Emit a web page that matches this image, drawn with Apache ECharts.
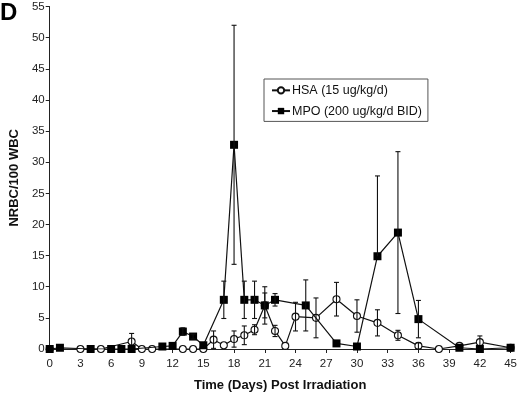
<!DOCTYPE html>
<html><head><meta charset="utf-8">
<script src="https://cdn.jsdelivr.net/npm/echarts@6/dist/echarts.min.js"></script>
<style>html,body{margin:0;padding:0;background:#fff}#c{width:520px;height:397px}</style>
</head><body><div id="c"></div>
<script>
// ---- data ----
const xTickLabels = [0,3,6,9,12,15,18,21,24,27,30,33,36,39,42,45];
const yTickLabels = [0,5,10,15,20,25,30,35,40,45,50,55];

const hsaName = 'HSA (15 ug/kg/d)';
const hsaDays   = [0,3,5,8,9,10,13,14,15,16,17,18,19,20,21,22,23,24,26,28,30,32,34,36,38,40,42,45];
const hsaValues = [0,0,0,1.2,0,0,0,0,0,1.5,0.6,1.6,2.2,3.1,7.0,2.9,0.5,5.2,5.0,8.0,5.3,4.2,2.2,0.5,0,0.5,1.1,0.2];
const hsaErrUp  = [0,0,0,1.3,0,0,0,0,0,1.4,0,1.3,1.5,0.8,2.0,0.9,0,2.3,3.2,2.7,2.6,2.1,0.8,0.5,0,0,1.0,0];
const hsaErrDn  = [0,0,0,1.3,0,0,0,0,0,1.4,0,1.3,1.5,0.8,2.0,0.9,0,2.3,3.2,2.7,2.6,2.1,0.8,0.5,0,0,1.0,0];

const mpoName = 'MPO (200 ug/kg/d BID)';
const mpoDays   = [0,1,4,6,7,8,11,12,13,14,15,17,18,19,20,21,22,25,28,30,32,34,36,40,42,45];
const mpoValues = [0,0.2,0,0,0,0,0.4,0.5,2.8,2.0,0.6,7.9,32.8,7.9,7.9,7.0,7.9,7.0,0.9,0.4,14.9,18.7,4.8,0.2,0,0.2];
const mpoErrUp  = [0,0,0,0,0,0,0,0,0.6,0.4,0,3,19.2,3,3,3,1,4.1,0,0,12.9,13,3,0,0,0];
const mpoErrDn  = [0,0,0,0,0,0,0,0,0.6,0.4,0,3,19.2,3,3,3,1,4.1,0,0,0,13,3,0,0,0];

// ---- build ----
const pairs = (d, v) => d.map((x, i) => [x, v[i]]);
function errData(d, v, up, dn) {
  const out = [];
  d.forEach((x, i) => {
    if (up[i] > 0 || dn[i] > 0) out.push([x, v[i] - dn[i], v[i] + up[i], dn[i] > 0 ? 1 : 0, up[i] > 0 ? 1 : 0]);
  });
  return out;
}
function renderErr(params, api) {
  const x = api.value(0);
  const lo = api.coord([x, api.value(1)]);
  const hi = api.coord([x, api.value(2)]);
  const w = 2.5;
  const st = { stroke: '#111', lineWidth: 1.1 };
  const ch = [{ type: 'line', shape: { x1: lo[0], y1: lo[1], x2: hi[0], y2: hi[1] }, style: st }];
  if (api.value(4)) ch.push({ type: 'line', shape: { x1: hi[0] - w, y1: hi[1], x2: hi[0] + w, y2: hi[1] }, style: st });
  if (api.value(3)) ch.push({ type: 'line', shape: { x1: lo[0] - w, y1: lo[1], x2: lo[0] + w, y2: lo[1] }, style: st });
  return { type: 'group', children: ch };
}

const tickFont = "'Liberation Sans Narrow', 'Liberation Sans', Arial, sans-serif";
const chart = echarts.init(document.getElementById('c'), null, { renderer: 'canvas' });
chart.setOption({
  animation: false,
  backgroundColor: '#fff',
  grid: { left: 38.7, right: 5.5, top: 6.6, bottom: 41.7, containLabel: false },
  graphic: [{ type: 'text', left: 0, top: 1, style: { text: 'D', font: "bold 24px 'Liberation Sans', Arial, sans-serif", fill: '#000' } }],
  legend: {
    orient: 'vertical', left: 264, top: 79,
    data: [hsaName, mpoName],
    padding: [4, 6, 3, 7], itemGap: 6, itemWidth: 18, itemHeight: 8,
    borderColor: '#555', borderWidth: 1,
    textStyle: { fontFamily: "'Liberation Sans', Arial, sans-serif", fontSize: 12.5, color: '#111', padding: [0,0,0,-3], lineHeight: 14.7 }
  },
  xAxis: {
    type: 'value', min: 0, max: 45, interval: 3,
    name: 'Time (Days) Post Irradiation', nameLocation: 'middle', nameGap: 30,
    nameTextStyle: { fontFamily: tickFont, fontWeight: 'bold', fontSize: 13, color: '#111' },
    axisLine: { show: true, lineStyle: { color: '#222', width: 1 } },
    axisTick: { show: true, length: 4, inside: false, lineStyle: { color: '#222' } },
    axisLabel: { margin: 9, fontFamily: tickFont, fontSize: 11.5, color: '#222',
      formatter: v => xTickLabels.includes(v) ? String(v) : '' },
    splitLine: { show: false }
  },
  yAxis: {
    type: 'value', min: 0, max: 55, interval: 5,
    name: 'NRBC/100 WBC', nameLocation: 'middle', nameGap: 26, nameRotate: 90,
    nameTextStyle: { fontFamily: tickFont, fontWeight: 'bold', fontSize: 13, color: '#111' },
    axisLine: { show: true, lineStyle: { color: '#222', width: 1 } },
    axisTick: { show: true, length: 4, inside: false, lineStyle: { color: '#222' } },
    axisLabel: { margin: 5, fontFamily: tickFont, fontSize: 11.5, color: '#222',
      formatter: v => yTickLabels.includes(v) ? String(v) : '' },
    splitLine: { show: false }
  },
  series: [
    { name: hsaName, type: 'line', data: pairs(hsaDays, hsaValues), symbol: 'circle', symbolSize: 7,
      itemStyle: { color: '#fff', borderColor: '#111', borderWidth: 1.1 },
      lineStyle: { color: '#111', width: 1.2 }, z: 2 },
    { name: 'hsaErr', type: 'custom', renderItem: renderErr, data: errData(hsaDays, hsaValues, hsaErrUp, hsaErrDn),
      encode: { x: 0, y: [1, 2] }, z: 3, silent: true },
    { name: mpoName, type: 'line', data: pairs(mpoDays, mpoValues), symbol: 'rect', symbolSize: 8,
      itemStyle: { color: '#000', borderColor: '#000', borderWidth: 0 },
      lineStyle: { color: '#111', width: 1.2 }, z: 4 },
    { name: 'mpoErr', type: 'custom', renderItem: renderErr, data: errData(mpoDays, mpoValues, mpoErrUp, mpoErrDn),
      encode: { x: 0, y: [1, 2] }, z: 5, silent: true }
  ]
});
</script></body></html>
